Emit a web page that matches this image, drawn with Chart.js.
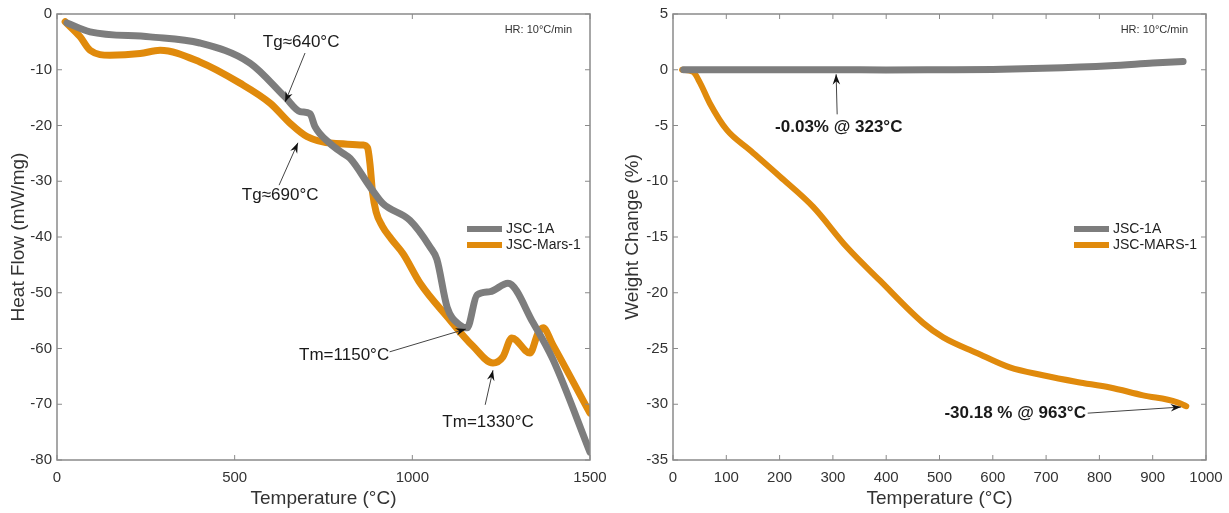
<!DOCTYPE html>
<html>
<head>
<meta charset="utf-8">
<script src="https://cdn.jsdelivr.net/npm/chart.js@4.4.1/dist/chart.umd.min.js"></script>
<style>
  html, body { margin: 0; padding: 0; background: #fff; }
  #wrap { position: relative; width: 1229px; height: 513px; }
  .box { position: absolute; top: 0; height: 513px; }
  #b1 { left: 0; width: 610px; }
  #b2 { left: 610px; width: 619px; }
</style>
</head>
<body>
<div id="wrap">
  <div class="box" id="b1"><canvas id="dscChart"></canvas></div>
  <div class="box" id="b2"><canvas id="tgaChart"></canvas></div>
</div>
<script>
// ---------- DSC (heat flow) ----------
const dscTemp1A = [28, 93, 262, 402, 543, 642, 684, 712, 726, 768, 805, 825, 881, 917, 993, 1050, 1069, 1098, 1134, 1154, 1182, 1219, 1269, 1340, 1396, 1500];
const dscFlow1A = [-1.6, -3.2, -4.1, -5.2, -8.8, -14.9, -17.5, -17.9, -20.2, -23.2, -25, -25.9, -31, -34, -37, -41.8, -44, -52.6, -55.8, -56.3, -50.4, -49.8, -48.3, -55.4, -62, -78.6];
const dscTempMars = [23, 65, 93, 149, 234, 290, 402, 515, 600, 656, 704, 777, 861, 874, 881, 888, 898, 915, 940, 974, 1022, 1098, 1171, 1227, 1255, 1280, 1331, 1354, 1368, 1396, 1500];
const dscFlowMars = [-1.4, -4.1, -6.5, -7.4, -7.1, -6.5, -8.6, -12.4, -16, -19.6, -22, -23.2, -23.5, -24, -27, -32, -35.5, -38, -40.3, -43, -48.3, -54.3, -59.6, -62.6, -61.5, -58.1, -60.8, -57.2, -56.3, -59.4, -71.6];
const dscXTicks = [0, 500, 1000, 1500];
const dscYTicks = [-80, -70, -60, -50, -40, -30, -20, -10, 0];

// ---------- TGA (weight change) ----------
const tgaTemp1A = [20, 100, 200, 300, 400, 500, 600, 694, 820, 900, 957];
const tgaWeight1A = [0, 0, 0, 0, -0.02, 0, 0.03, 0.13, 0.36, 0.6, 0.75];
const tgaTempMars = [17, 38, 51, 69, 101, 144, 201, 263, 326, 388, 469, 507, 570, 632, 694, 758, 820, 882, 945, 963];
const tgaWeightMars = [0, -0.2, -1.2, -3, -5.4, -7.2, -9.6, -12.3, -15.9, -18.9, -22.7, -24, -25.4, -26.7, -27.4, -28, -28.5, -29.2, -29.8, -30.18];
const tgaXTicks = [0, 100, 200, 300, 400, 500, 600, 700, 800, 900, 1000];
const tgaYTicks = [-35, -30, -25, -20, -15, -10, -5, 0, 5];

// annotations: text at (tx,ty), arrow from (ax,ay) to head (hx,hy), data units
const dscNotes = [
  { text: 'Tg\u2248640\u00b0C', tx: 687, ty: -5.0, ax: 698, ay: -7.0, hx: 642, hy: -15.8, bold: false },
  { text: 'Tg\u2248690\u00b0C', tx: 628, ty: -32.5, ax: 625, ay: -30.7, hx: 678, hy: -23.1, bold: false },
  { text: 'Tm=1150\u00b0C', tx: 808, ty: -61.3, ax: 936, ay: -60.6, hx: 1151, hy: -56.5, bold: false },
  { text: 'Tm=1330\u00b0C', tx: 1213, ty: -73.2, ax: 1205, ay: -70.1, hx: 1227, hy: -63.9, bold: false }
];
const tgaNotes = [
  { text: '-0.03% @ 323\u00b0C', tx: 311, ty: -5.2, ax: 308, ay: -4.0, hx: 306, hy: -0.4, bold: true },
  { text: '-30.18 % @ 963\u00b0C', tx: 642, ty: -30.8, ax: 778, ay: -30.8, hx: 953, hy: -30.25, bold: true }
];

const CINZA = '#7d7d7d';
const LARANJA = '#e08a0c';
const FONTE = "'Liberation Sans', Arial, sans-serif";

function pontos(xs, ys) {
  return xs.map((x, i) => ({ x: x, y: ys[i] }));
}

// moldura estilo MATLAB com ticks para dentro
const moldura = {
  id: 'moldura',
  afterDatasetsDraw(chart) {
    const { ctx, chartArea: a, scales } = chart;
    ctx.save();
    ctx.strokeStyle = '#8a8a8a';
    ctx.lineWidth = 1.5;
    ctx.strokeRect(a.left, a.top, a.right - a.left, a.bottom - a.top);
    ctx.lineWidth = 1;
    const t = 5;
    scales.x.ticks.forEach(tk => {
      const px = scales.x.getPixelForValue(tk.value);
      ctx.beginPath();
      ctx.moveTo(px, a.bottom); ctx.lineTo(px, a.bottom - t);
      ctx.moveTo(px, a.top); ctx.lineTo(px, a.top + t);
      ctx.stroke();
    });
    scales.y.ticks.forEach(tk => {
      const py = scales.y.getPixelForValue(tk.value);
      ctx.beginPath();
      ctx.moveTo(a.left, py); ctx.lineTo(a.left + t, py);
      ctx.moveTo(a.right, py); ctx.lineTo(a.right - t, py);
      ctx.stroke();
    });
    ctx.restore();
  }
};

// textos, setas, legenda e "HR"
const anotacoes = {
  id: 'anotacoes',
  afterDraw(chart, args, opts) {
    const { ctx, chartArea: a, scales } = chart;
    ctx.save();
    (opts.notes || []).forEach(n => {
      const ax = scales.x.getPixelForValue(n.ax), ay = scales.y.getPixelForValue(n.ay);
      const hx = scales.x.getPixelForValue(n.hx), hy = scales.y.getPixelForValue(n.hy);
      ctx.strokeStyle = '#444';
      ctx.lineWidth = 1;
      ctx.beginPath(); ctx.moveTo(ax, ay); ctx.lineTo(hx, hy); ctx.stroke();
      const ang = Math.atan2(hy - ay, hx - ax);
      ctx.fillStyle = '#111';
      ctx.beginPath();
      ctx.moveTo(hx, hy);
      ctx.lineTo(hx - 11 * Math.cos(ang - 0.35), hy - 11 * Math.sin(ang - 0.35));
      ctx.lineTo(hx - 7 * Math.cos(ang), hy - 7 * Math.sin(ang));
      ctx.lineTo(hx - 11 * Math.cos(ang + 0.35), hy - 11 * Math.sin(ang + 0.35));
      ctx.closePath(); ctx.fill();
      ctx.font = (n.bold ? 'bold ' : '') + '17px ' + FONTE;
      ctx.textAlign = 'center'; ctx.textBaseline = 'middle';
      ctx.fillStyle = '#1a1a1a';
      ctx.fillText(n.text, scales.x.getPixelForValue(n.tx), scales.y.getPixelForValue(n.ty));
    });
    // HR
    ctx.font = '11px ' + FONTE;
    ctx.fillStyle = '#333';
    ctx.textAlign = 'right'; ctx.textBaseline = 'middle';
    ctx.fillText('HR: 10\u00b0C/min', a.right - 18, a.top + 16);
    // legenda
    ctx.font = '14px ' + FONTE;
    ctx.textAlign = 'left';
    chart.data.datasets.forEach((ds, i) => {
      const y = a.top + 215 + i * 16;
      const x0 = a.right - opts.legendRight;
      ctx.fillStyle = ds.borderColor;
      ctx.fillRect(x0, y - 3, 35, 6);
      ctx.fillStyle = '#222';
      ctx.fillText(ds.label, x0 + 39, y);
    });
    ctx.restore();
  }
};

function criarGrafico(id, series, xr, yr, xTicks, yTicks, yTitulo, notas, yLargura, padDireita, legendRight, tituloPad) {
  const ctx = document.getElementById(id);
  return new Chart(ctx, {
    type: 'line',
    data: {
      datasets: series.map(s => ({
        label: s.label,
        data: s.data,
        borderColor: s.cor,
        backgroundColor: s.cor,
        borderWidth: s.largura,
        borderCapStyle: 'round',
        borderJoinStyle: 'round',
        pointRadius: 0,
        cubicInterpolationMode: 'monotone',
        fill: false
      }))
    },
    options: {
      responsive: true,
      maintainAspectRatio: false,
      animation: false,
      layout: { padding: { top: 14, right: padDireita, left: 0, bottom: 0 } },
      plugins: {
        legend: { display: false },
        tooltip: { enabled: false },
        anotacoes: { notes: notas, legendRight: legendRight }
      },
      scales: {
        x: {
          type: 'linear', min: xr[0], max: xr[1],
          afterBuildTicks: s => { s.ticks = xTicks.map(v => ({ value: v })); },
          afterFit: s => { s.height = 53; s.paddingLeft = 0; s.paddingRight = 0; },
          grid: { display: false, drawTicks: false },
          border: { display: false },
          ticks: { color: '#333', font: { family: FONTE, size: 15 }, padding: 9, maxRotation: 0, callback: v => String(v) },
          title: { display: true, text: 'Temperature (\u00b0C)', color: '#333', font: { family: FONTE, size: 19 }, padding: { top: 0, bottom: 3 } }
        },
        y: {
          type: 'linear', min: yr[0], max: yr[1],
          afterBuildTicks: s => { s.ticks = yTicks.map(v => ({ value: v })); },
          afterFit: s => { s.width = yLargura; s.paddingTop = 0; s.paddingBottom = 0; },
          grid: { display: false, drawTicks: false },
          border: { display: false },
          ticks: { color: '#333', font: { family: FONTE, size: 15 }, padding: 5, callback: v => String(v) },
          title: { display: true, text: yTitulo, color: '#333', font: { family: FONTE, size: 19 }, padding: { top: tituloPad, bottom: 2 } }
        }
      }
    },
    plugins: [moldura, anotacoes]
  });
}

criarGrafico('dscChart', [
  { label: 'JSC-1A', data: pontos(dscTemp1A, dscFlow1A), cor: CINZA, largura: 7 },
  { label: 'JSC-Mars-1', data: pontos(dscTempMars, dscFlowMars), cor: LARANJA, largura: 7 }
], [0, 1500], [-80, 0], dscXTicks, dscYTicks, 'Heat Flow (mW/mg)', dscNotes, 57, 20, 123, 7);

criarGrafico('tgaChart', [
  { label: 'JSC-1A', data: pontos(tgaTemp1A, tgaWeight1A), cor: CINZA, largura: 7 },
  { label: 'JSC-MARS-1', data: pontos(tgaTempMars, tgaWeightMars), cor: LARANJA, largura: 6 }
], [0, 1000], [-35, 5], tgaXTicks, tgaYTicks, 'Weight Change (%)', tgaNotes, 63, 23, 132, 11);
</script>
</body>
</html>
